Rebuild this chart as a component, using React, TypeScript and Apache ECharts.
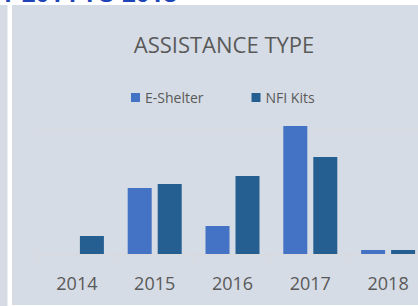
import React, { useEffect, useRef } from "react";
import * as echarts from "echarts";

const categories = ["2014", "2015", "2016", "2017", "2018"];
const eShelter = [0, 2661, 1129, 5161, 161];
const nfiKits = [726, 2823, 3145, 3911, 161];
const gridValue = 5000;
const seriesNames = ["E-Shelter", "NFI Kits"];
const titleText = "ASSISTANCE TYPE";
const headerText = "Y 2014 TO 2018";

const FONT = "'Open Sans', 'Noto Sans', sans-serif";

export default function App() {
  const ref = useRef<HTMLDivElement>(null);
  useEffect(() => {
    if (!ref.current) return;
    const chart = echarts.init(ref.current, null, { renderer: "svg" });
    chart.setOption({
      animation: false,
      backgroundColor: "#ffffff",
      textStyle: { fontFamily: FONT },
      graphic: [
        {
          type: "text",
          x: 177,
          y: -8,
          z: -20,
          style: {
            text: headerText,
            fill: "#1f44b8",
            font: `bold 24px ${FONT}`,
            align: "right",
            verticalAlign: "middle",
          },
        },
        { type: "rect", z: -10, shape: { x: 0, y: 5, width: 7.5, height: 301 }, style: { fill: "#d6dce5" } },
        { type: "rect", z: -10, shape: { x: 12, y: 5, width: 440, height: 300 }, style: { fill: "#d6dce5" } },
        {
          type: "text",
          x: 224,
          y: 44,
          style: {
            text: titleText,
            fill: "#595959",
            font: `22px ${FONT}`,
            align: "center",
            verticalAlign: "middle",
          },
        },
      ],
      legend: {
        left: 126,
        top: 85.5,
        itemWidth: 9,
        itemHeight: 9,
        itemGap: 48,
        icon: "rect",
        textStyle: { color: "#595959", fontSize: 14, fontFamily: FONT },
        data: seriesNames,
      },
      grid: { left: 38, top: 105.2, width: 389, height: 148.8, containLabel: false },
      xAxis: {
        type: "category",
        data: categories,
        axisLine: { lineStyle: { color: "#d9d9d9", width: 1 } },
        axisTick: { show: true, length: 6, lineStyle: { color: "#d9d9d9" } },
        axisLabel: { color: "#595959", fontSize: 18, fontFamily: FONT, margin: 20 },
      },
      yAxis: {
        type: "value",
        min: 0,
        max: 6000,
        show: false,
        splitLine: { show: false },
      },
      series: [
        {
          name: seriesNames[0],
          type: "bar",
          data: eShelter,
          barWidth: 24,
          barGap: "25%",
          itemStyle: { color: "#4472c4" },
          markLine: {
            silent: true,
            symbol: ["none", "none"],
            label: { show: false },
            lineStyle: { color: "#d9d9d9", type: "solid", width: 1 },
            data: [{ yAxis: gridValue }],
            z: 1,
          },
          z: 3,
        },
        {
          name: seriesNames[1],
          type: "bar",
          data: nfiKits,
          barWidth: 24,
          barGap: "25%",
          itemStyle: { color: "#255e91" },
          z: 3,
        },
      ],
    });
    return () => chart.dispose();
  }, []);
  return (
    <div style={{ position: "fixed", left: 0, top: 0, width: 418, height: 306, overflow: "hidden" }}>
      <div ref={ref} style={{ width: 440, height: 306 }} />
    </div>
  );
}
